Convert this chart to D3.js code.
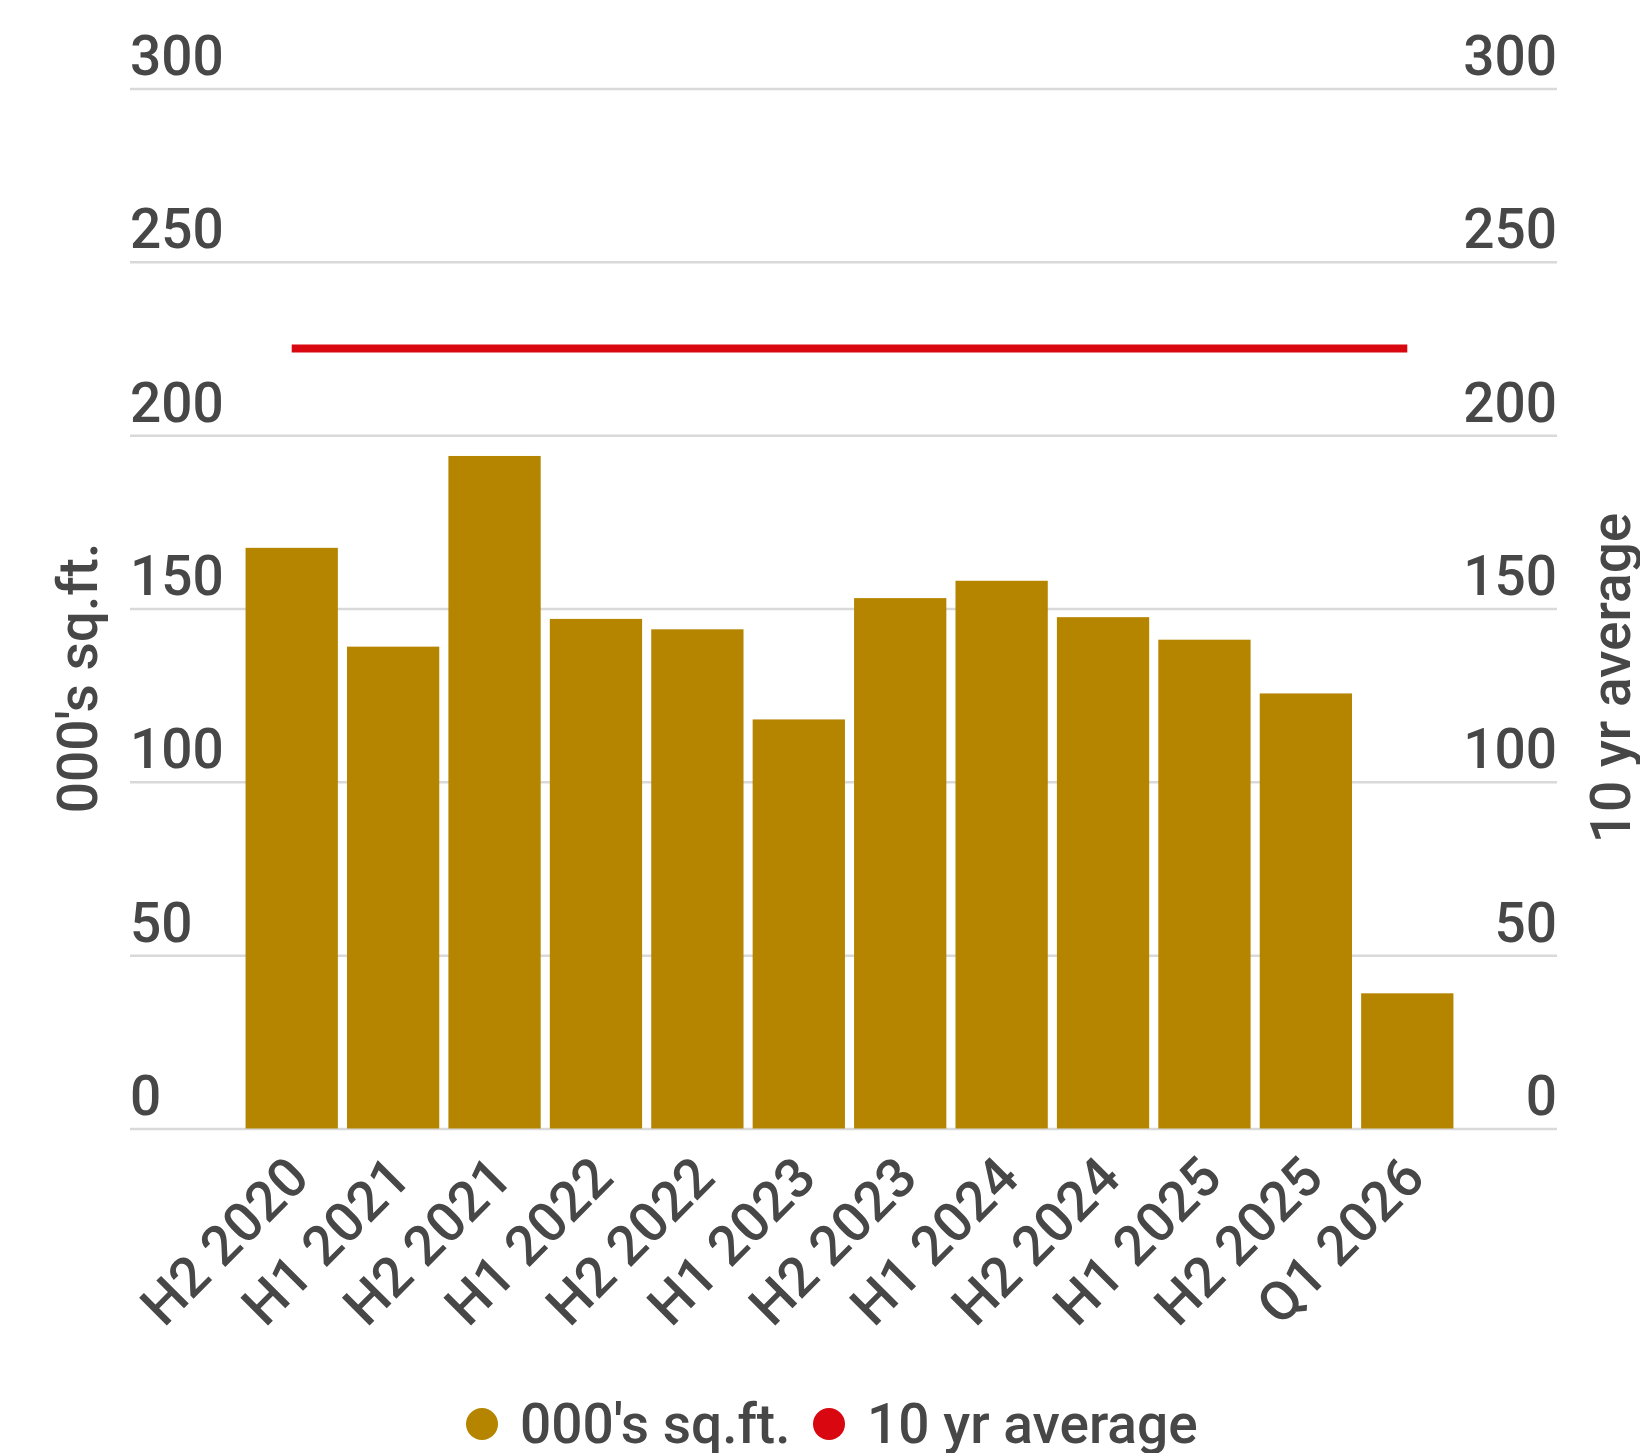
<html>
<head>
<meta charset="utf-8">
<script src="https://cdn.jsdelivr.net/npm/d3@7"></script>
<style>
  body { margin: 0; background: #fff; }
  text { font-family: Roboto, sans-serif; font-weight: 500; fill: #474747; }
</style>
</head>
<body>
<div id="chart"></div>
<script>
const categories = ["H2 2020", "H1 2021", "H2 2021", "H1 2022", "H2 2022", "H1 2023",
                    "H2 2023", "H1 2024", "H2 2024", "H1 2025", "H2 2025", "Q1 2026"];
const sqft = [167.5, 139, 194, 147, 144, 118, 153, 158, 147.5, 141, 125.5, 39];
const tenYrAvg = [225, 225, 225, 225, 225, 225, 225, 225, 225, 225, 225, 225];
const yTicks = [0, 50, 100, 150, 200, 250, 300];
const legendItems = ["000's sq.ft.", "10 yr average"];

const width = 1640, height = 1453;
const gridLeft = 130, gridRight = 1557;
const gold = "#b58500", red = "#d9070f";

const svg = d3.select("#chart").append("svg")
    .attr("width", width)
    .attr("height", height);

const y = d3.scaleLinear().domain([0, 300]).range([1128.5, 88.5]);
const x = d3.scaleBand()
    .domain(categories)
    .range([241, 1458])
    .paddingInner(0.09)
    .paddingOuter(0.045);

// left axis + gridlines
const leftAxis = svg.append("g")
    .attr("transform", `translate(${gridLeft},0)`)
    .call(d3.axisLeft(y).tickValues(yTicks).tickSize(-(gridRight - gridLeft)).tickPadding(0));
leftAxis.select(".domain").remove();
leftAxis.selectAll("line").attr("stroke", "#d9d9d9").attr("stroke-width", 2.5);
leftAxis.selectAll("text")
    .attr("x", 0).attr("dy", 0).attr("y", -14)
    .attr("text-anchor", "start")
    .style("font-size", "55px");

// right axis labels
const rightAxis = svg.append("g")
    .attr("transform", `translate(${gridRight},0)`)
    .call(d3.axisRight(y).tickValues(yTicks).tickSize(0).tickPadding(0));
rightAxis.select(".domain").remove();
rightAxis.selectAll("text")
    .attr("x", 0).attr("dy", 0).attr("y", -14)
    .attr("text-anchor", "end")
    .style("font-size", "55px");

svg.selectAll("g.tick text").attr("fill", "#474747");

// bars
svg.append("g")
    .selectAll("rect")
    .data(sqft)
    .join("rect")
    .attr("x", (d, i) => x(categories[i]))
    .attr("width", x.bandwidth())
    .attr("y", d => y(d))
    .attr("height", d => y(0) - y(d))
    .attr("fill", gold);

// 10 yr average line
const line = d3.line()
    .x((d, i) => x(categories[i]) + x.bandwidth() / 2)
    .y(d => y(d));
svg.append("path")
    .datum(tenYrAvg)
    .attr("d", line)
    .attr("fill", "none")
    .attr("stroke", red)
    .attr("stroke-width", 8);

// x axis
const xAxis = svg.append("g")
    .attr("transform", `translate(0,${y(0)})`)
    .call(d3.axisBottom(x).tickSize(0));
xAxis.select(".domain").remove();
xAxis.selectAll("text")
    .attr("x", 0).attr("y", 0).attr("dy", 0)
    .attr("text-anchor", "end")
    .attr("transform", "translate(20,52) rotate(-45)")
    .attr("fill", "#474747")
    .style("font-size", "55px");

// axis titles
svg.append("text")
    .attr("transform", "translate(97,678) rotate(-90)")
    .attr("text-anchor", "middle")
    .style("font-size", "55px")
    .text("000's sq.ft.");
svg.append("text")
    .attr("transform", "translate(1630,678) rotate(-90)")
    .attr("text-anchor", "middle")
    .style("font-size", "55px")
    .text("10 yr average");

// legend
const legendX = [482, 829];
const legend = svg.append("g")
    .selectAll("g")
    .data(legendItems)
    .join("g")
    .attr("transform", (d, i) => `translate(${legendX[i]},1424)`);
legend.append("circle")
    .attr("r", 16)
    .attr("fill", (d, i) => i === 0 ? gold : red);
legend.append("text")
    .attr("x", 38)
    .attr("y", 19)
    .style("font-size", "55px")
    .text(d => d);
</script>
</body>
</html>
